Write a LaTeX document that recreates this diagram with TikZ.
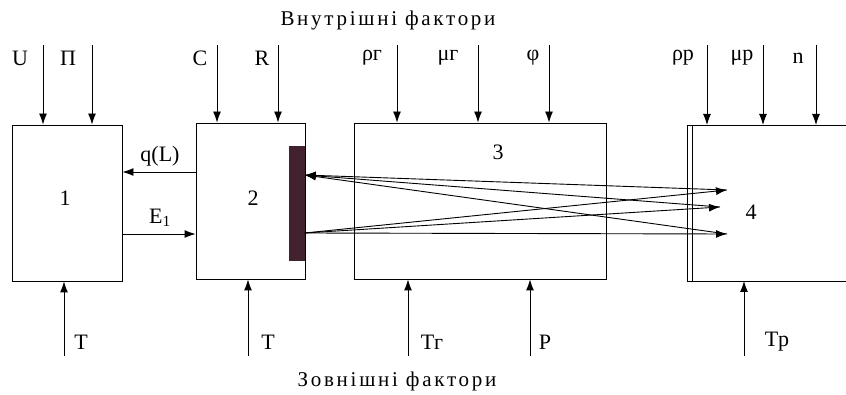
\documentclass[tikz,border=0pt]{standalone}
\usepackage{fontspec}
\setmainfont{Liberation Serif}
\newfontfamily\naslovfont[LetterSpace=13]{Liberation Serif}
\usetikzlibrary{arrows.meta}
\definecolor{barva}{HTML}{43222F}

\begin{document}
\begin{tikzpicture}[x=1pt,y=-1pt,every node/.style={font=\fontsize{22}{24}\selectfont},
    blok/.style={draw,line width=0.9pt,inner sep=0pt},
    pil/.style={line width=0.9pt,arrows={-Latex[length=11pt,width=8pt]}},
    naslov/.style={font=\naslovfont\fontsize{21}{24}\selectfont}]
                \useasboundingbox (0,0) rectangle (846,395);

                % bloki
                \node[blok,minimum width=110pt,minimum height=156pt] (b1) at (67,203) {};
                \node[blok,minimum width=109pt,minimum height=156pt] (b2) at (250.5,201) {};
                \node[fill=barva,draw=barva,inner sep=0pt,minimum width=15pt,minimum height=114pt] (bar) at (297,203) {};
                \node[blok,minimum width=252pt,minimum height=156pt] (b3) at (480,201) {};
                \coordinate (b4nw) at (687,125);
                \coordinate (b4sw) at (687,281);
                \draw[line width=0.9pt] (846,125) -- (b4nw) -- (b4sw) -- (846,281);
                \draw[line width=0.9pt] ([xshift=5pt]b4nw) -- ([xshift=5pt]b4sw);

                \node (n1) at (65,198) {1};
                \node (n2) at (253,198) {2};
                \node (n3) at (498,152) {3};
                \node (n4) at (751,212) {4};

                % notranji dejavniki
                \node[naslov] (notr) at (388,20) {Внутрішні фактори};
                \foreach \lx/\ax/\t/\bx [count=\i] in {20/43/U/b1.north, 68/92/П/b1.north,
                    200/217/C/b2.north, 262/278/R/b2.north, 372/397/ρг/b3.north,
                    448/478/μг/b3.north, 533/549/φ/b3.north, 683/707/ρр/b4nw,
                    742/763/μр/b4nw, 798/816/n/b4nw}{
                    \coordinate (ts\i) at (\ax,45);
                    \node (tl\i) at (\lx,58) {\t};
                    \draw[pil] (ts\i) -- (ts\i |- \bx);
                }

                % zunanji dejavniki
                \node[naslov] (zun) at (397,381) {Зовнішні фактори};
                \foreach \ax/\lx/\t/\bx [count=\i] in {64/81/T/b1.south, 248/268/T/b2.south,
                    408/432/Tг/b3.south, 530/545/P/b3.south, 744/777/Tр/b4sw}{
                    \coordinate (bs\i) at (\ax,356);
                    \node (bl\i) at (\lx,342) {\t};
                    \draw[pil] (bs\i) -- (bs\i |- \bx);
                }

                % povezave 1-2
                \draw[pil] ([yshift=29pt]b2.west) coordinate (q0) -- (q0 -| b1.east);
                \node (ql) at (160,156) {q(L)};
                \draw[pil] ([yshift=-31pt]b1.east) coordinate (e0) -- (e0 -| b2.west);
                \node (el) at (160,218) {E\textsubscript{1}};

                % zarki
                \coordinate (l1) at ([yshift=28pt]bar.east);
                \coordinate (l2) at ([yshift=-30pt]bar.east);
                \coordinate (r1) at (727,190);
                \coordinate (r2) at (720,207);
                \coordinate (r3) at (727,234);
                \foreach \r in {r1,r2,r3}{
                    \draw[pil] (\r) -- (l1);
                    \draw[pil] (l2) -- (\r);
                }
            \end{tikzpicture}
\end{document}
